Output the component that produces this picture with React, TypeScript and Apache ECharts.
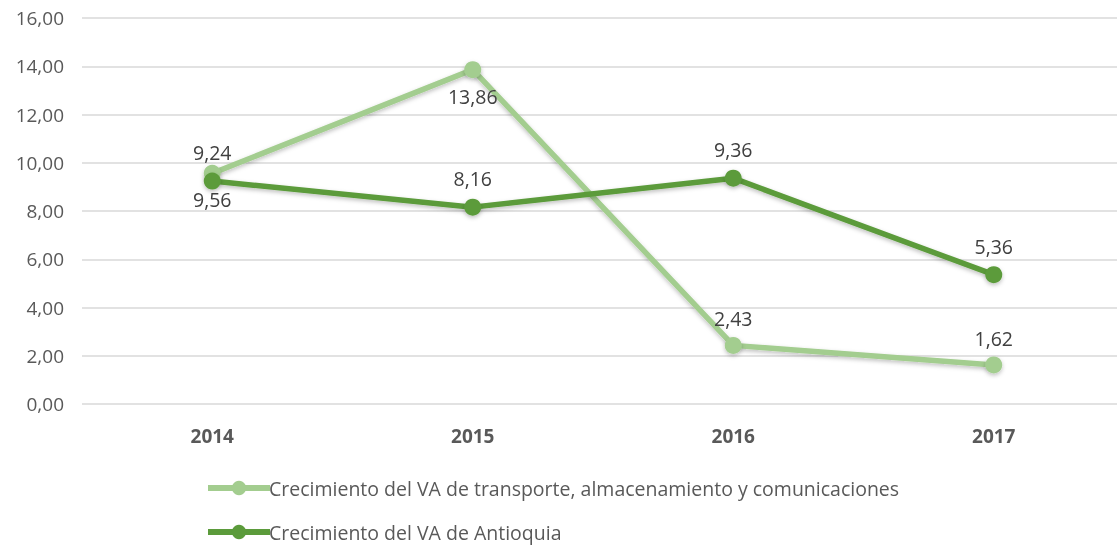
import React, { useEffect, useRef } from "react";
import * as echarts from "echarts";

const years = ["2014", "2015", "2016", "2017"];
const transporte = [9.56, 13.86, 2.43, 1.62];
const antioquia = [9.24, 8.16, 9.36, 5.36];
const transporteLabelPos = ["bottom", "bottom", "top", "top"];
const nameTransporte = "Crecimiento del VA de transporte, almacenamiento y comunicaciones";
const nameAntioquia = "Crecimiento del VA de Antioquia";

const fmt = (v: number) => v.toFixed(2).replace(".", ",");

export default function App() {
  const ref = useRef<HTMLDivElement>(null);
  useEffect(() => {
    const chart = echarts.init(ref.current!, undefined, { renderer: "svg" });
    const font = "'Open Sans', 'Noto Sans', sans-serif";
    const lightC = "#a3cd8f";
    const darkC = "#5b9b3b";
    const shadow = { shadowColor: "rgba(0,0,0,0.25)", shadowBlur: 4, shadowOffsetY: 2 };
    const legendBase = {
      orient: "horizontal",
      left: 205,
      padding: 0,
      itemWidth: 62,
      itemHeight: 18,
      textStyle: { color: "#595959", fontSize: 19.5, fontFamily: font, padding: [0, 0, 0, -6] },
    };
    chart.setOption({
      animation: false,
      textStyle: { fontFamily: font },
      grid: { left: 82, right: 2, top: 18, height: 386, containLabel: false },
      xAxis: {
        type: "category",
        data: years,
        axisLine: { show: false },
        axisTick: { show: false },
        axisLabel: { color: "#595959", fontSize: 19, fontWeight: "bold", margin: 22, fontFamily: font },
      },
      yAxis: {
        type: "value",
        min: 0,
        max: 16,
        interval: 2,
        axisLine: { show: false },
        axisTick: { show: false },
        splitLine: { lineStyle: { color: "#d9d9d9", width: 1.5 } },
        axisLabel: { color: "#595959", fontSize: 19, margin: 18, formatter: (v: number) => fmt(v), fontFamily: font },
      },
      legend: [
        { ...legendBase, top: 478, data: [{ name: nameTransporte, lineStyle: { width: 6 } }] },
        { ...legendBase, top: 522, data: [{ name: nameAntioquia, lineStyle: { width: 6 } }] },
      ],
      series: [
        {
          name: nameTransporte,
          type: "line",
          data: transporte.map((v, i) => ({
            value: v,
            label: { position: transporteLabelPos[i] },
          })),
          symbol: "circle",
          symbolSize: 17,
          lineStyle: { color: lightC, width: 5.5, ...shadow },
          itemStyle: { color: lightC, ...shadow },
          label: { show: true, color: "#404040", fontSize: 19.5, distance: 8, formatter: (p: any) => fmt(p.value), fontFamily: font },
          z: 2,
        },
        {
          name: nameAntioquia,
          type: "line",
          data: antioquia,
          symbol: "circle",
          symbolSize: 17,
          lineStyle: { color: darkC, width: 5.5, ...shadow },
          itemStyle: { color: darkC, ...shadow },
          label: { show: true, position: "top", color: "#404040", fontSize: 19.5, distance: 10, formatter: (p: any) => fmt(p.value), fontFamily: font },
          z: 3,
        },
      ],
    });
    return () => chart.dispose();
  }, []);
  return (
    <div style={{ position: "fixed", left: 0, top: 0, width: 1117, height: 546, overflow: "hidden" }}>
      <div ref={ref} style={{ width: 1126, height: 546 }} />
    </div>
  );
}
